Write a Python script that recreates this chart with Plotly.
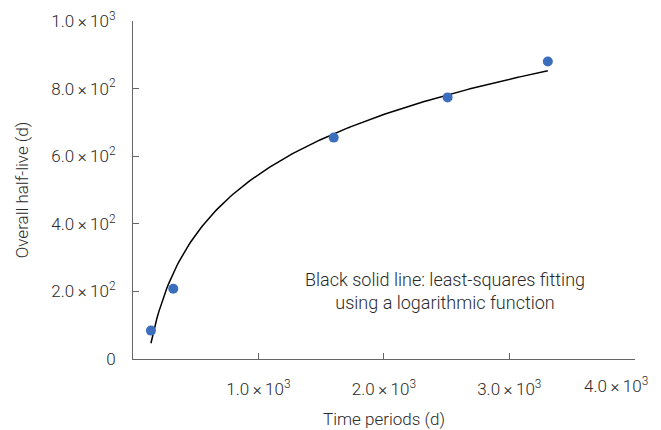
import numpy as np
import plotly.graph_objects as go

# Data
time_days = [143, 321, 1600, 2508, 3307]
half_life = [84, 208, 655, 774, 880]

T = "\u2009"
x_tick_vals = [1000, 2000, 3000, 4000]
x_tick_text = [f"1.0{T}×{T}10<sup>3</sup>", f"2.0{T}×{T}10<sup>3</sup>",
               f"3.0{T}×{T}10<sup>3</sup>", f"4.0{T}×{T}10<sup>3</sup>"]
y_tick_vals = [0, 200, 400, 600, 800, 1000]
y_tick_text = ["0", f"2.0{T}×{T}10<sup>2</sup>", f"4.0{T}×{T}10<sup>2</sup>",
               f"6.0{T}×{T}10<sup>2</sup>", f"8.0{T}×{T}10<sup>2</sup>",
               f"1.0{T}×{T}10<sup>3</sup>"]

# least-squares fit with a logarithmic function y = a*ln(x) + b
a, b = np.polyfit(np.log(time_days), half_life, 1)
fit_x = np.linspace(min(time_days), max(time_days), 200)
fit_y = a * np.log(fit_x) + b

FONT = "Roboto, Liberation Sans, Arial, sans-serif"
TXT = "#2a2a2a"
AX = "#666666"

fig = go.Figure()
fig.add_trace(go.Scatter(x=fit_x, y=fit_y, mode="lines",
                         line=dict(color="black", width=1.5), showlegend=False,
                         hoverinfo="skip"))
fig.add_trace(go.Scatter(x=time_days, y=half_life, mode="markers",
                         marker=dict(color="#3b6fbd", size=10), showlegend=False))

fig.add_annotation(x=2486, y=201, xref="x", yref="y",
                   text="Black solid line: least-squares fitting<br>using a logarithmic function",
                   showarrow=False, align="center",
                   font=dict(family=FONT, size=18, color=TXT, weight=300))

# last x tick label is pulled left (as in the reference) so it stays inside the picture
shown_x_text = x_tick_text[:-1] + [""]
fig.add_annotation(x=x_tick_vals[-1], y=0, xref="x", yref="paper",
                   text=x_tick_text[-1], showarrow=False,
                   xanchor="right", yanchor="middle", xshift=15, yshift=-26,
                   font=dict(family=FONT, size=17, color=TXT, weight=300))

# page body has an 8px default margin, so the figure is sized/margined to fit the 661x430 view
fig.update_layout(
    width=653, height=422,
    margin=dict(l=125, r=26, t=13, b=71),
    plot_bgcolor="white", paper_bgcolor="white",
    font=dict(family=FONT, size=17, color=TXT, weight=300),
    xaxis=dict(range=[0, 4002], showgrid=False, zeroline=False, automargin=False,
               showline=True, linecolor=AX, linewidth=1,
               ticks="inside", ticklen=6, tickcolor=AX,
               tickvals=x_tick_vals, ticktext=shown_x_text,
               ticklabelstandoff=15,
               tickfont=dict(size=17),
               title=dict(text="Time periods (d)", standoff=14, font=dict(size=17))),
    yaxis=dict(range=[0, 1000], showgrid=False, zeroline=False, automargin=False,
               showline=True, linecolor=AX, linewidth=1,
               ticks="inside", ticklen=6, tickcolor=AX,
               tickvals=y_tick_vals, ticktext=y_tick_text,
               ticklabelstandoff=13, ticklabeloverflow="allow",
               tickfont=dict(size=17),
               title=dict(text="Overall half-live (d)", standoff=18, font=dict(size=17))),
)

fig.write_html("out.html")
